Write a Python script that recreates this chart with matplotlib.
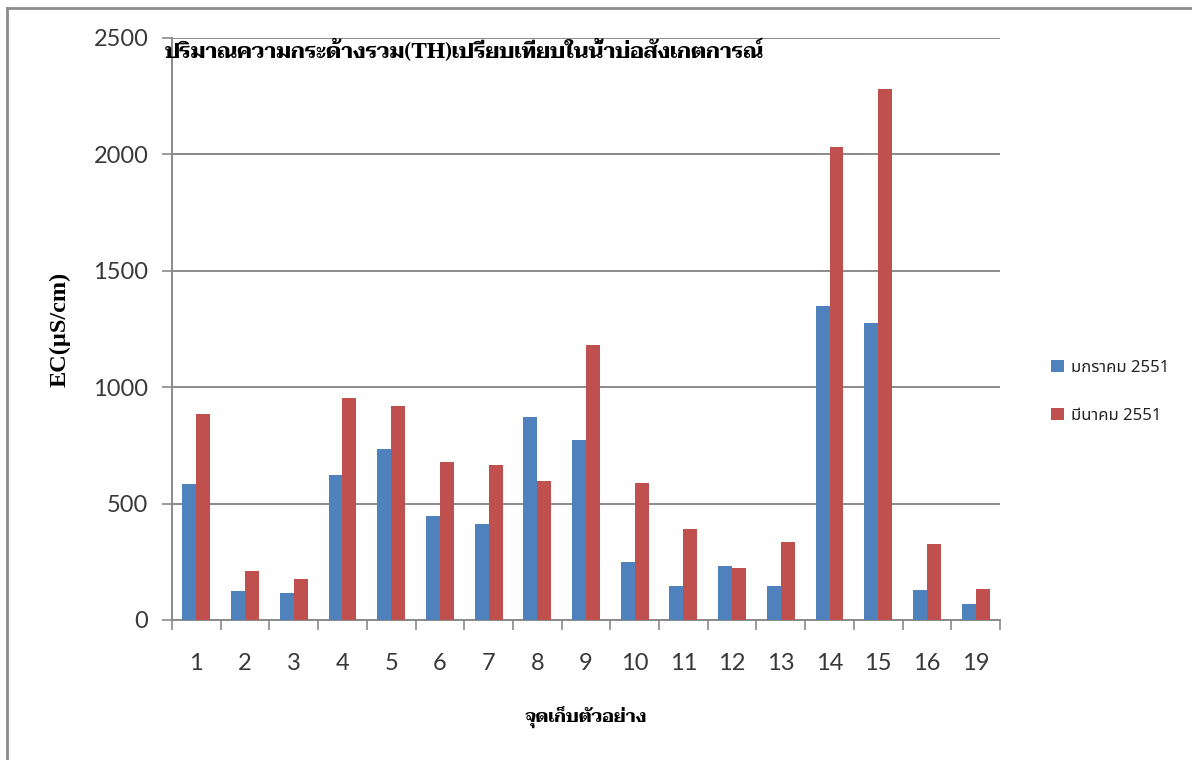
import matplotlib
matplotlib.use("Agg")
import matplotlib.pyplot as plt
from matplotlib.lines import Line2D
from matplotlib.patches import Patch
import numpy as np

# Sampling points and total hardness readings for the two survey months
stations = ["1", "2", "3", "4", "5", "6", "7", "8", "9", "10",
            "11", "12", "13", "14", "15", "16", "19"]
jan_2551 = [584, 123, 116, 622, 733, 447, 413, 870, 772, 248,
            146, 233, 146, 1350, 1274, 129, 68]
mar_2551 = [883, 210, 176, 953, 921, 678, 666, 596, 1182, 590,
            392, 223, 334, 2033, 2283, 328, 134]
series_names = ["มกราคม 2551", "มีนาคม 2551"]
y_ticks = [0, 500, 1000, 1500, 2000, 2500]

title = "ปริมาณความกระด้างรวม(TH)เปรียบเทียบในน้ำบ่อสังเกตการณ์"
x_title = "จุดเก็บตัวอย่าง"
y_title = "EC(µS/cm)"

BLUE = "#4F81BD"
RED = "#C0504D"
GRID = "#8a8a8a"
TICK_TXT = "#383838"

fig = plt.figure(figsize=(11.92, 7.6), dpi=100)
W, H = 1192, 760
ax = fig.add_axes([172 / W, 1 - 620 / H, (1000 - 172) / W, (620 - 38) / H])

x = np.arange(len(stations))
bw = 1 / 3.5
ax.bar(x - bw / 2, jan_2551, width=bw, color=BLUE, zorder=3)
ax.bar(x + bw / 2, mar_2551, width=bw, color=RED, zorder=3)

ax.set_xlim(-0.5, len(stations) - 0.5)
ax.set_ylim(0, 2500)
ax.set_yticks(y_ticks)
ax.set_yticklabels([str(v) for v in y_ticks], family="Lato", fontsize=17,
                   color=TICK_TXT)
ax.yaxis.grid(True, color=GRID, linewidth=1.4, zorder=0)
ax.tick_params(axis="y", length=7, width=1.2, color=GRID, pad=10)

ax.set_xticks(x)
ax.set_xticklabels(stations, family="Lato", fontsize=17, color=TICK_TXT)
ax.set_xticks(np.arange(len(stations) + 1) - 0.5, minor=True)
ax.tick_params(axis="x", which="major", length=0, pad=24)
ax.tick_params(axis="x", which="minor", length=7, width=1.2, color=GRID)

for side in ("top", "right"):
    ax.spines[side].set_visible(False)
for side in ("left", "bottom"):
    ax.spines[side].set_color(GRID)
    ax.spines[side].set_linewidth(1.4)

fig.text(165 / W, 1 - 58 / H, title, family=["Taviraj", "Liberation Serif"],
         fontweight="bold", fontsize=15.4, ha="left", va="baseline", color="black")
fig.text(60 / W, 1 - 329 / H, y_title, family="Liberation Serif",
         fontweight="bold", fontsize=17.5, rotation=90, ha="center", va="center")
fig.text(586 / W, 1 - 718 / H, x_title, family="Taviraj", fontweight="bold",
         fontsize=13, ha="center", va="center")

handles = [Patch(facecolor=BLUE), Patch(facecolor=RED)]
leg = fig.legend(handles, series_names, loc="upper left",
                 bbox_to_anchor=(1036 / W, 1 - 345 / H), frameon=False,
                 prop={"family": ["Noto Sans Thai", "Lato"], "size": 12},
                 handlelength=0.75, handleheight=0.75, handletextpad=0.45,
                 labelspacing=1.9)
for t in leg.get_texts():
    t.set_color("#222222")

# outer frame of the chart area
fig.add_artist(Line2D([7 / W, 7 / W], [0, 1 - 8 / H], color="#8c8c8c",
                      linewidth=2, transform=fig.transFigure))
fig.add_artist(Line2D([7 / W, 1], [1 - 8 / H, 1 - 8 / H], color="#8c8c8c",
                      linewidth=2, transform=fig.transFigure))

fig.savefig("out.png", dpi=100, facecolor="white")
